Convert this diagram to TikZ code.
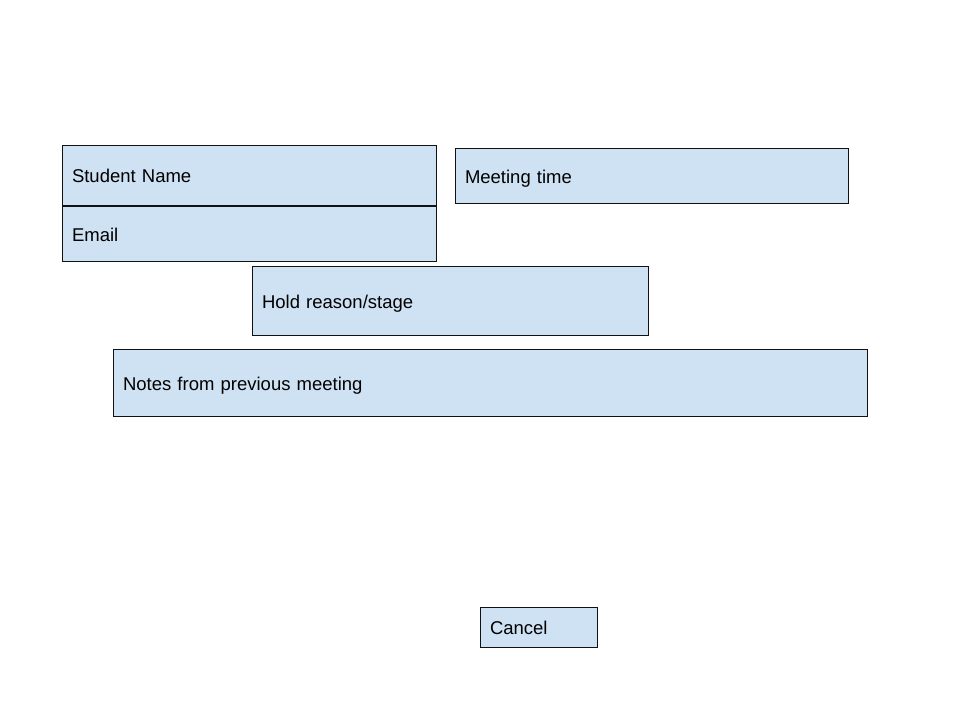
\documentclass[tikz,border=0pt]{standalone}
\usepackage{fontspec}
\setmainfont{Liberation Sans}
\definecolor{FormBlue}{HTML}{CFE2F3}
\definecolor{FormInk}{HTML}{111111}
\usetikzlibrary{positioning}

\begin{document}
\begin{tikzpicture}[x=1pt,y=-1pt,
    field/.style={draw=FormInk,line width=1pt,fill=FormBlue,anchor=north west,
      align=left,inner xsep=9.5pt,inner ysep=0pt,text height=16pt,text depth=2pt,
      font=\fontsize{18.5}{22}\selectfont}]
    \useasboundingbox[fill=white] (0,0) rectangle (960,720);
    % top row
    \node[field,text width=355pt,minimum height=60pt] (name) at (62,145) {Student Name};
    \node[field,text width=355pt,minimum height=55pt] (email) at (name.south west) {Email};
    \node[field,text width=374pt,minimum height=55pt] (time) at (455,148) {Meeting time};
    % middle
    \node[field,text width=377pt,minimum height=69pt] (hold) at (252,266) {Hold reason/stage};
    \node[field,text width=735pt,minimum height=67pt] (notes) at (113,349) {Notes from previous meeting};
    % button
    \node[field,text width=98pt,minimum height=40pt] (cancel) at (480,607) {Cancel};
  \end{tikzpicture}
\end{document}
